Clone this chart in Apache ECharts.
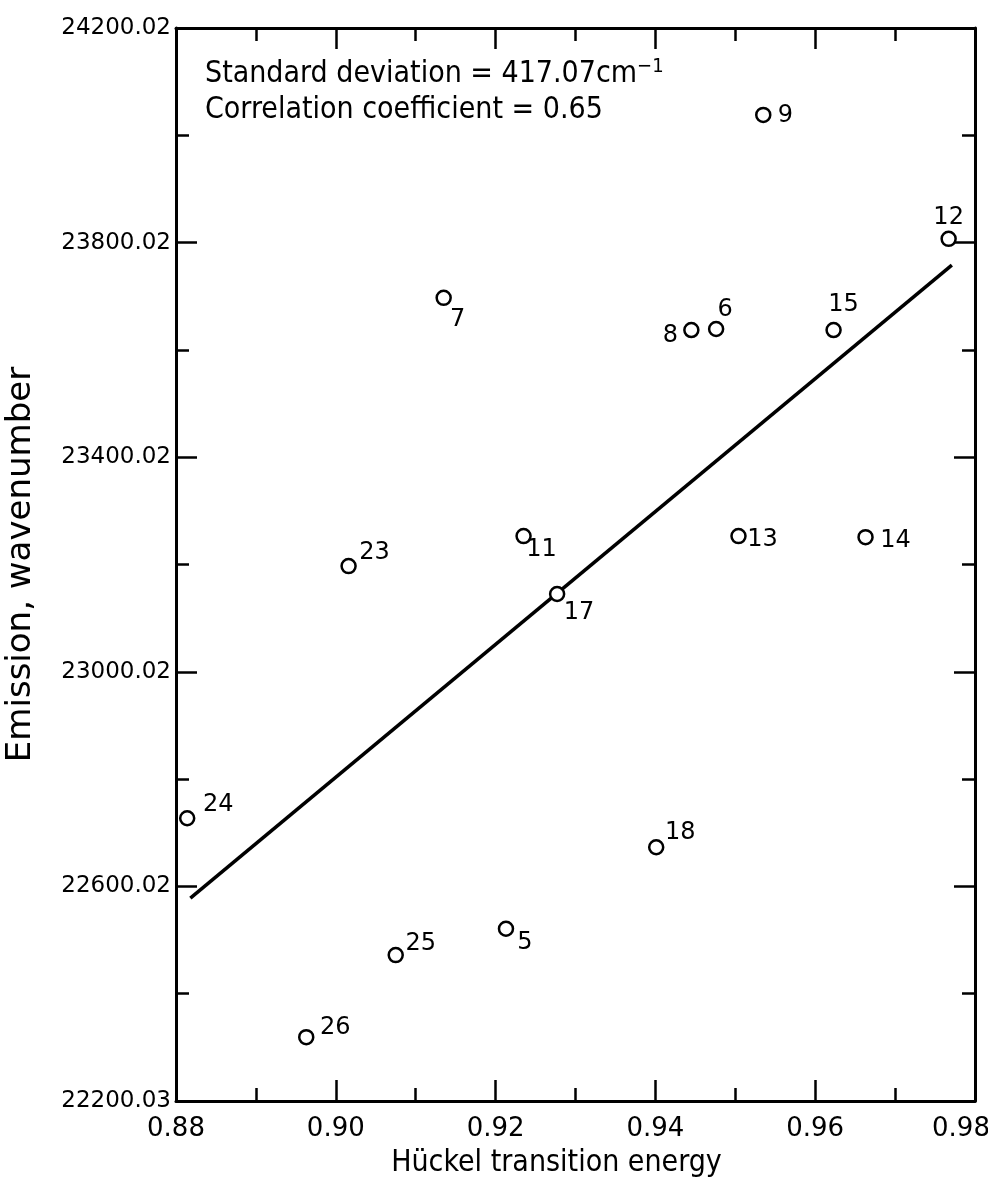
<!DOCTYPE html>
<html>
<head>
<meta charset="utf-8">
<script src="https://cdn.jsdelivr.net/npm/echarts@6/dist/echarts.min.js"></script>
<style>
  html, body { margin: 0; padding: 0; background: #fff; }
  #chart { width: 988px; height: 1179px; }
</style>
</head>
<body>
<div id="chart"></div>
<script>
// compound numbers and their values
var pointNames = ['9', '12', '7', '8', '6', '15', '13', '14', '11', '23', '17', '24', '18', '5', '25', '26'];
var huckel = [0.9535, 0.9767, 0.9135, 0.9445, 0.9476, 0.9623, 0.9504, 0.9663, 0.9235, 0.9016, 0.9277, 0.8814, 0.9401, 0.9213, 0.9075, 0.8963];
var emission = [24038, 23807, 23697, 23637, 23639, 23637, 23253, 23251, 23253, 23197, 23145, 22727, 22673, 22521, 22472, 22319];

// regression line end points
var fitX = [0.8818, 0.9771];
var fitY = [22578, 23758];

var yTickValues = [22200, 22600, 23000, 23400, 23800, 24200];
var yTickLabels = ['22200.03', '22600.02', '23000.02', '23400.02', '23800.02', '24200.02'];

// where each number sits relative to its circle (px)
var labelOffsets = [[22, 1], [0, -21], [14, 22], [-21, 6], [9, -19], [10, -25], [24, 4], [30, 4],
  [18, 14], [26, -13], [22, 19], [31, -13], [24, -14], [19, 14], [25, -11], [29, -9]];

var FONT = 'DejaVu Sans';
var FONT_C = 'DejaVu Sans Condensed';

var points = pointNames.map(function (n, i) {
  return {
    name: n,
    value: [huckel[i], emission[i]],
    label: { offset: labelOffsets[i] }
  };
});

var fitLine = fitX.map(function (x, i) { return [x, fitY[i]]; });

var axisLine = { lineStyle: { color: '#000', width: 3 } };
var tickStyle = { color: '#000', width: 2.5 };

var chart = echarts.init(document.getElementById('chart'));
chart.setOption({
  backgroundColor: '#fff',
  animation: false,
  grid: { left: 176, right: 13, top: 28, bottom: 78, outerBoundsMode: 'none' },
  xAxis: [{
    type: 'value',
    min: 0.88,
    max: 0.98,
    interval: 0.02,
    name: 'Hückel transition energy',
    nameLocation: 'middle',
    nameGap: 47,
    nameTextStyle: { fontFamily: FONT_C, fontSize: 30, color: '#000', padding: [0, 38, 0, 0] },
    axisLine: axisLine,
    axisTick: { inside: true, length: 21, lineStyle: tickStyle },
    minorTick: { show: true, splitNumber: 2, length: 13, lineStyle: tickStyle },
    splitLine: { show: false },
    axisLabel: {
      margin: 15,
      fontFamily: FONT,
      fontSize: 26,
      color: '#000',
      formatter: function (v) {
        var s = v.toFixed(2);
        return s === '0.98' ? '{last|' + s + '}' : s;
      },
      rich: { last: { fontFamily: FONT, fontSize: 26, color: '#000', padding: [0, 28, 0, 0] } }
    }
  }, {
    type: 'value',
    position: 'top',
    min: 0.88,
    max: 0.98,
    interval: 0.02,
    axisLine: axisLine,
    axisTick: { inside: true, length: 21, lineStyle: tickStyle },
    minorTick: { show: true, splitNumber: 2, length: 13, lineStyle: tickStyle },
    splitLine: { show: false },
    axisLabel: { show: false }
  }],
  yAxis: [{
    type: 'value',
    min: 22200,
    max: 24200,
    interval: 400,
    name: 'Emission, wavenumber',
    nameLocation: 'middle',
    nameGap: 138,
    nameTextStyle: { fontFamily: FONT, fontSize: 34, color: '#000' },
    axisLine: axisLine,
    axisTick: { inside: true, length: 21, lineStyle: tickStyle },
    minorTick: { show: true, splitNumber: 2, length: 13, lineStyle: tickStyle },
    splitLine: { show: false },
    axisLabel: {
      margin: 5,
      fontFamily: FONT,
      fontSize: 23,
      color: '#000',
      formatter: function (v) {
        var i = yTickValues.indexOf(Math.round(v));
        return i >= 0 ? yTickLabels[i] : '';
      }
    }
  }, {
    type: 'value',
    position: 'right',
    min: 22200,
    max: 24200,
    interval: 400,
    axisLine: axisLine,
    axisTick: { inside: true, length: 21, lineStyle: tickStyle },
    minorTick: { show: true, splitNumber: 2, length: 13, lineStyle: tickStyle },
    splitLine: { show: false },
    axisLabel: { show: false }
  }],
  graphic: [{
    type: 'text',
    left: 205,
    top: 57,
    style: {
      text: 'Standard deviation = 417.07cm{sup|−1}',
      fontFamily: FONT_C,
      fontSize: 30,
      fill: '#000',
      rich: { sup: { fontFamily: FONT_C, fontSize: 20, fill: '#000', verticalAlign: 'top', padding: [0, 0, 14, 0] } }
    }
  }, {
    type: 'text',
    left: 205,
    top: 95,
    style: {
      text: 'Correlation coefficient = 0.65',
      fontFamily: FONT_C,
      fontSize: 30,
      fill: '#000'
    }
  }],
  series: [{
    type: 'line',
    data: fitLine,
    showSymbol: false,
    symbol: 'none',
    lineStyle: { color: '#000', width: 3.5 },
    z: 2
  }, {
    type: 'scatter',
    data: points,
    symbol: 'circle',
    symbolSize: 14,
    itemStyle: { color: '#fff', borderColor: '#000', borderWidth: 2.5, opacity: 1 },
    label: {
      show: true,
      position: 'inside',
      formatter: '{b}',
      fontFamily: FONT,
      fontSize: 24,
      color: '#000'
    },
    z: 3
  }]
});
</script>
</body>
</html>
